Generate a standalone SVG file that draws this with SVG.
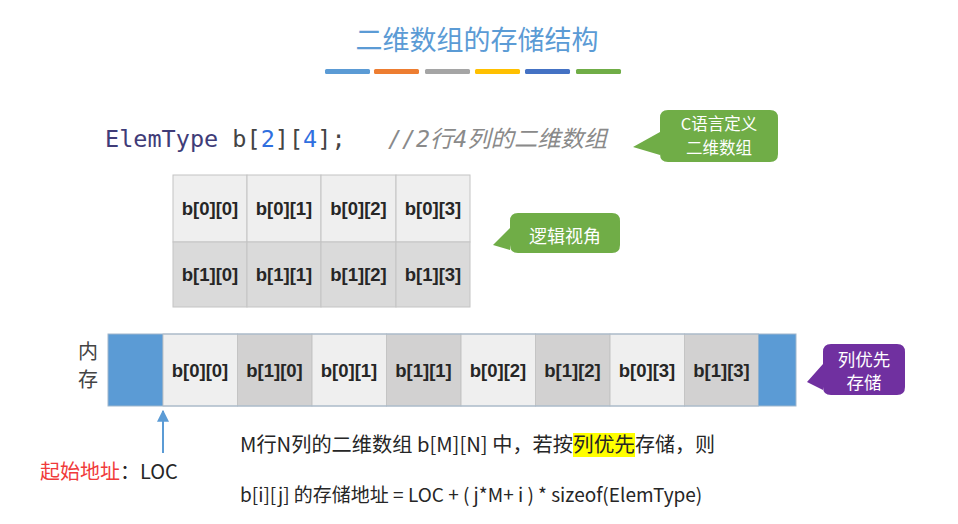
<svg xmlns="http://www.w3.org/2000/svg" width="958" height="524" viewBox="0 0 958 524">
<style>
.cjk{font-family:"Noto Sans CJK SC","Noto Sans",sans-serif;}
.cell{font-family:"Liberation Sans",Arial,sans-serif;font-weight:bold;font-size:18.5px;fill:#262626;text-anchor:middle;}
.lt{fill:#efefef;stroke:#c4c4c4;stroke-width:1;}
.dk{fill:#dadada;stroke:#c4c4c4;stroke-width:1;}
.mdk{fill:#d2d1d1;stroke:#c4c4c4;stroke-width:1;}
.blue{fill:#5b9bd5;}
.call{font-family:"Noto Sans CJK SC",sans-serif;font-size:16px;fill:#ffffff;text-anchor:middle;}
.body{font-family:"Noto Sans CJK SC","Noto Sans",sans-serif;font-size:19px;fill:#262626;}
</style>
<defs>
<marker id="ah" viewBox="0 0 10 10" refX="9" refY="5" markerWidth="6" markerHeight="6" orient="auto"><path d="M0,0 L10,5 L0,10 z" fill="#5b9bd5"/></marker>
</defs>
<rect width="958" height="524" fill="#ffffff"/>

<g id="title">
<text x="477" y="50" class="cjk" font-size="27" fill="#5b9bd5" text-anchor="middle">二维数组的存储结构</text>
<rect x="325" y="69" width="45" height="5" rx="1.5" fill="#5b9bd5"/>
<rect x="374" y="69" width="45" height="5" rx="1.5" fill="#ed7d31"/>
<rect x="425" y="69" width="45" height="5" rx="1.5" fill="#a5a5a5"/>
<rect x="475" y="69" width="45" height="5" rx="1.5" fill="#ffc000"/>
<rect x="525" y="69" width="45" height="5" rx="1.5" fill="#4472c4"/>
<rect x="576" y="69" width="45" height="5" rx="1.5" fill="#70ad47"/>
</g>

<g id="code">
<text x="105" y="147" font-family="'DejaVu Sans Mono','Liberation Mono',monospace" font-size="23.5" fill="#444"><tspan fill="#3f3c78">ElemType</tspan> b[<tspan fill="#2f6fdf">2</tspan>][<tspan fill="#2f6fdf">4</tspan>];</text>
<text x="388" y="147" font-family="'DejaVu Sans Mono','Noto Sans CJK SC',monospace" font-style="italic" font-size="23" fill="#8a8a8a" textLength="219" lengthAdjust="spacingAndGlyphs">//2行4列的二维数组</text>
</g>

<g id="callout-c">
<path d="M668,110 H770 Q778,110 778,118 V154 Q778,162 770,162 H668 Q660,162 660,154 V155 L633,147 L660,132 V118 Q660,110 668,110 Z" fill="#70ad47"/>
<text x="719" y="130" class="call" style="font-size:16.5px">C语言定义</text>
<text x="719" y="154" class="call" style="font-size:16.5px">二维数组</text>
</g>

<g id="grid">
<rect x="173" y="175" width="74" height="67" class="lt"/>
<rect x="247" y="175" width="74" height="67" class="lt"/>
<rect x="321" y="175" width="75" height="67" class="lt"/>
<rect x="396" y="175" width="74" height="67" class="lt"/>
<rect x="173" y="242" width="74" height="65" class="dk"/>
<rect x="247" y="242" width="74" height="65" class="dk"/>
<rect x="321" y="242" width="75" height="65" class="dk"/>
<rect x="396" y="242" width="74" height="65" class="dk"/>
<text x="210" y="215" class="cell">b[0][0]</text>
<text x="284" y="215" class="cell">b[0][1]</text>
<text x="358.5" y="215" class="cell">b[0][2]</text>
<text x="433" y="215" class="cell">b[0][3]</text>
<text x="210" y="281" class="cell">b[1][0]</text>
<text x="284" y="281" class="cell">b[1][1]</text>
<text x="358.5" y="281" class="cell">b[1][2]</text>
<text x="433" y="281" class="cell">b[1][3]</text>
</g>

<g id="callout-logic">
<path d="M518,213 H612 Q620,213 620,221 V245 Q620,253 612,253 H518 Q510,253 510,245 V250 L493,245 L510,228 V221 Q510,213 518,213 Z" fill="#70ad47"/>
<text x="565" y="243" class="call" style="font-size:18px">逻辑视角</text>
</g>

<g id="memory">
<text x="88" y="359" class="cjk" font-size="20" fill="#444" text-anchor="middle">内</text>
<text x="88" y="387" class="cjk" font-size="20" fill="#444" text-anchor="middle">存</text>
<rect x="108" y="334" width="55" height="72" class="blue"/>
<rect x="163" y="334" width="74.5" height="72" class="lt"/>
<rect x="237.5" y="334" width="74.5" height="72" class="mdk"/>
<rect x="312" y="334" width="74.5" height="72" class="lt"/>
<rect x="386.5" y="334" width="74.5" height="72" class="mdk"/>
<rect x="461" y="334" width="74.5" height="72" class="lt"/>
<rect x="535.5" y="334" width="74.5" height="72" class="mdk"/>
<rect x="610" y="334" width="74.5" height="72" class="lt"/>
<rect x="684.5" y="334" width="74" height="72" class="mdk"/>
<rect x="758.5" y="334" width="37.5" height="72" class="blue"/>
<rect x="108" y="334" width="688" height="72" fill="none" stroke="#9fb6cc" stroke-width="1"/>
<text x="200" y="377" class="cell">b[0][0]</text>
<text x="274.5" y="377" class="cell">b[1][0]</text>
<text x="349" y="377" class="cell">b[0][1]</text>
<text x="423.5" y="377" class="cell">b[1][1]</text>
<text x="498" y="377" class="cell">b[0][2]</text>
<text x="572.5" y="377" class="cell">b[1][2]</text>
<text x="647" y="377" class="cell">b[0][3]</text>
<text x="721.5" y="377" class="cell">b[1][3]</text>
</g>

<g id="callout-col">
<path d="M831,344 H897 Q905,344 905,352 V387 Q905,395 897,395 H831 Q823,395 823,387 V390 L807,382 L823,364 V352 Q823,344 831,344 Z" fill="#7030a0"/>
<text x="864" y="366" class="call" style="font-size:17.5px">列优先</text>
<text x="864" y="389" class="call" style="font-size:17.5px">存储</text>
</g>

<g id="connectors">
<line x1="163" y1="453" x2="163" y2="411" stroke="#5b9bd5" stroke-width="2" marker-end="url(#ah)"/>
</g>

<g id="start-label">
<text x="40" y="479" class="cjk" font-size="20" fill="#262626"><tspan fill="#f03a3a">起始地址</tspan>：LOC</text>
</g>

<g id="formula">
<rect x="573" y="433" width="62" height="24" fill="#ffff00"/>
<text x="240" y="452" class="body" style="font-size:20px" textLength="333" lengthAdjust="spacingAndGlyphs">M行N列的二维数组 b[M][N] 中，若按</text>
<text x="573" y="452" class="body" style="font-size:20px" textLength="62" lengthAdjust="spacingAndGlyphs">列优先</text>
<text x="635" y="452" class="body" style="font-size:20px" textLength="80" lengthAdjust="spacingAndGlyphs">存储，则</text>
<text x="240" y="502" class="body">b[i][j] 的存储地址 = LOC + ( j*M+ i ) * sizeof(ElemType)</text>
</g>
</svg>
